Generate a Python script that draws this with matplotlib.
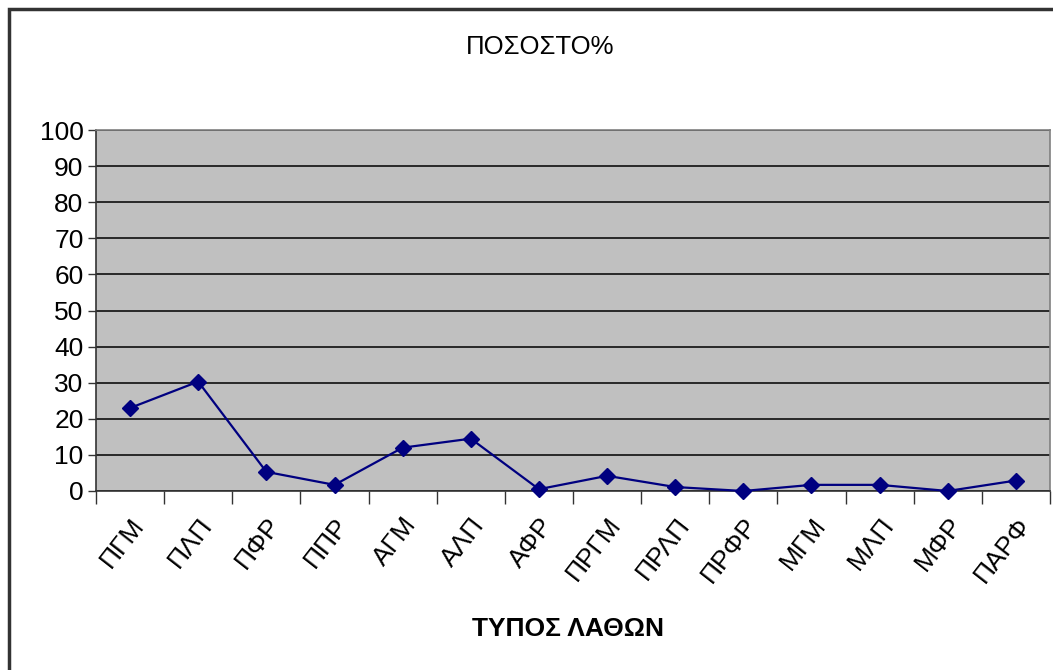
import matplotlib.pyplot as plt
from matplotlib.patches import Rectangle

categories = ["ΠΓΜ", "ΠΛΠ", "ΠΦΡ", "ΠΠΡ", "ΑΓΜ", "ΑΛΠ", "ΑΦΡ",
              "ΠΡΓΜ", "ΠΡΛΠ", "ΠΡΦΡ", "ΜΓΜ", "ΜΛΠ", "ΜΦΡ", "ΠΑΡΦ"]
values = [23.0, 30.3, 5.3, 1.7, 12.0, 14.5, 0.5, 4.2, 1.1, 0.0, 1.7, 1.7, 0.0, 2.9]
yticks = [0, 10, 20, 30, 40, 50, 60, 70, 80, 90, 100]

plt.rcParams['font.family'] = ['Liberation Sans', 'DejaVu Sans']

fig = plt.figure(figsize=(10.53, 6.70), dpi=100)
W, H = 1053, 670

# outer chart frame
fig.patches.append(Rectangle((9 / W, -0.01), 1.1, 1 - 9 / H + 0.01,
                             transform=fig.transFigure, fill=False,
                             edgecolor='#333333', linewidth=2.5))

ax = fig.add_axes([96 / W, 1 - 491 / H, (1050 - 96) / W, (491 - 130) / H])
ax.set_facecolor('#c0c0c0')

x = list(range(len(categories)))
ax.plot(x, values, color='#000080', linewidth=1.6, marker='D',
        markersize=8, markerfacecolor='#000080', markeredgecolor='#000080',
        zorder=3, clip_on=False)

ax.set_xlim(-0.5, len(categories) - 0.5)
ax.set_ylim(0, 100)
ax.set_yticks(yticks)
ax.set_yticklabels([str(v) for v in yticks], fontsize=19)
ax.yaxis.grid(True, color='black', linewidth=1.1)
ax.set_axisbelow(True)

# ticks between categories, labels at category centres
ax.set_xticks([i - 0.5 for i in range(len(categories) + 1)])
ax.set_xticklabels([])
ax.set_xticks(x, minor=True)
ax.set_xticklabels(categories, minor=True, rotation=52, ha='right',
                   va='top', rotation_mode='anchor', fontsize=19)
ax.tick_params(axis='x', which='minor', length=0, pad=16)
ax.tick_params(axis='x', which='major', length=9, width=1, color='#333333')
ax.tick_params(axis='y', length=6, width=1, color='#333333', pad=3)

for side in ['left', 'bottom']:
    ax.spines[side].set_color('#333333')
    ax.spines[side].set_linewidth(1.2)
for side in ['top', 'right']:
    ax.spines[side].set_color('#808080')
    ax.spines[side].set_linewidth(1.2)

fig.text(540 / W, 1 - 47 / H, "ΠΟΣΟΣΤΟ%", ha='center', va='center', fontsize=18.5)
fig.text(568 / W, 1 - 629 / H, "ΤΥΠΟΣ ΛΑΘΩΝ", ha='center', va='center',
         fontsize=19, fontweight='bold')

fig.savefig('out.png', dpi=100)
